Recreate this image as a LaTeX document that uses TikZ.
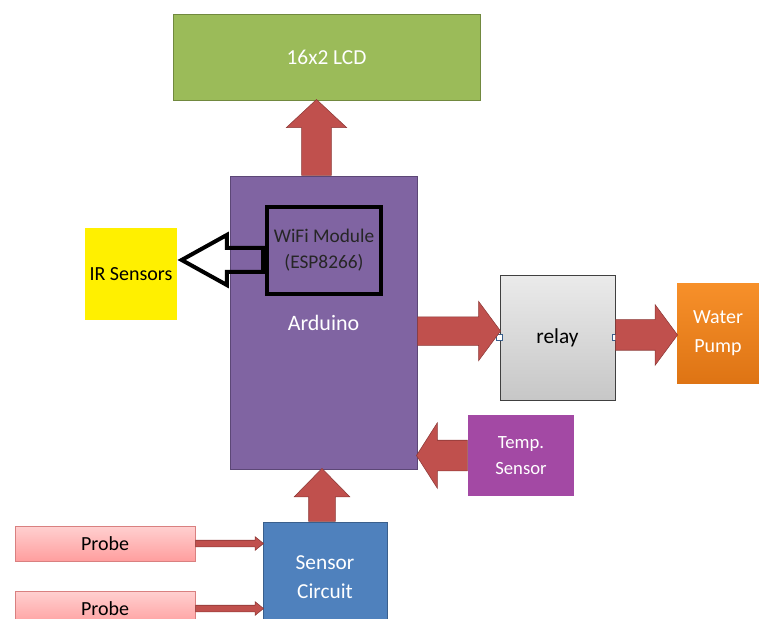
\documentclass[tikz,border=0pt]{standalone}
\usepackage{fontspec}
\setmainfont{Carlito}
\usetikzlibrary{shapes.arrows,positioning}
\definecolor{lcdgreen}{HTML}{9BBB59}
\definecolor{lcdline}{HTML}{71893F}
\definecolor{ardpurple}{HTML}{8064A2}
\definecolor{ardline}{HTML}{5C4776}
\definecolor{arrowred}{HTML}{C0504D}
\definecolor{arrowdark}{HTML}{8C3836}
\definecolor{iryellow}{HTML}{FFF000}
\definecolor{pumporange}{HTML}{F7902A}
\definecolor{pumpdark}{HTML}{DE7414}
\definecolor{tempviolet}{HTML}{A349A4}
\definecolor{sensblue}{HTML}{4F81BD}
\definecolor{sensline}{HTML}{3A5F8C}
\definecolor{probetop}{HTML}{FFD0D0}
\definecolor{probebot}{HTML}{FF9E9E}
\definecolor{probeline}{HTML}{D98080}
\tikzset{block/.style={rectangle,inner sep=0pt,align=center,font=\fontsize{15}{22}\selectfont},
	 bigarrow/.style={single arrow,draw=arrowdark,fill=arrowred,inner sep=0pt,
		single arrow head indent=0pt},
	 handle/.style={rectangle,draw=sensline,fill=white,inner sep=0pt,minimum size=4.5pt,line width=0.4pt}
	 }

\begin{document}
\begin{tikzpicture}[x=0.75pt,y=-0.75pt] % px grid, y down
	\useasboundingbox (0,0) rectangle (759,618);
	% boxes
	\node[block,fill=lcdgreen,draw=lcdline,text=white,minimum width=230.25pt,minimum height=64.5pt,
		font=\fontsize{16}{19}\selectfont] (lcd) at (326.5,57) {16x2 LCD};
	\node[block,fill=ardpurple,draw=ardline,text=white,minimum width=140.25pt,minimum height=219.75pt,
		font=\fontsize{16.5}{19}\selectfont] (ard) at (323.5,322.5) {Arduino};
	\node[block,draw=black,line width=3pt,text=black!85,minimum width=85.5pt,minimum height=65.25pt,
		font=\fontsize{14.5}{19.5}\selectfont] (wifi) at (324,250.5) {WiFi Module\\(ESP8266)};
	\node[block,fill=iryellow,text=black,minimum width=69pt,minimum height=69pt] (ir) at (131,274) {IR Sensors};
	\node[block,top color=black!8,bottom color=black!22,draw=black!75,minimum width=86.25pt,
		minimum height=93.75pt,font=\fontsize{16}{19}\selectfont] (relay) at (557.5,337.5) {relay};
	\node[block,top color=pumporange,bottom color=pumpdark,text=white,minimum width=61.5pt,
		minimum height=75pt] (pump) at (718,333) {Water\\Pump};
	\node[block,fill=tempviolet,text=white,minimum width=79.5pt,minimum height=60.75pt,
		font=\fontsize{14}{19.5}\selectfont] (temp) at (521,455.5) {Temp.\\Sensor};
	\node[block,fill=sensblue,draw=sensline,text=white,minimum width=93pt,minimum height=82.5pt,
		font=\fontsize{16}{22}\selectfont] (sens) at (325,577) {Sensor\\Circuit};
	\node[block,top color=probetop,bottom color=probebot,draw=probeline,minimum width=135pt,
		minimum height=26.25pt] (probe1) at (105,543.5) {Probe};
	\node[block,top color=probetop,bottom color=probebot,draw=probeline,minimum width=135pt,
		minimum height=26.25pt] (probe2) at (105,608.5) {Probe};
	\node[handle] (h1) at (relay.west) {};
	\node[handle] (h2) at (relay.east) {};
	% block arrows
	\node[bigarrow,rotate=90,anchor=tail,minimum height=57pt,inner ysep=10.9pt,minimum width=45pt,
		single arrow head extend=11.6pt,single arrow tip angle=94] (a1) at ([xshift=-5.25pt]ard.north) {};
	\node[bigarrow,anchor=tail,minimum height=62.25pt,inner ysep=10.5pt,minimum width=44.25pt,
		single arrow head extend=11.6pt,single arrow tip angle=107] (a2) at ([yshift=-6.4pt]ard.east) {};
	\node[bigarrow,anchor=tail,minimum height=46.5pt,inner ysep=11.25pt,minimum width=45pt,
		single arrow head extend=11.25pt,single arrow tip angle=107] (a3) at ([yshift=1.9pt]relay.east) {};
	\node[bigarrow,rotate=180,anchor=tail,minimum height=38.25pt,inner ysep=11.25pt,minimum width=48.75pt,
		single arrow head extend=13.1pt,single arrow tip angle=115] (a4) at (temp.west) {};
	\node[bigarrow,rotate=90,anchor=tail,minimum height=39.75pt,inner ysep=9.75pt,minimum width=41.25pt,
		single arrow head extend=10.9pt,single arrow tip angle=89] (a5) at ([xshift=-2.25pt]sens.north) {};
	\node[bigarrow,anchor=tail,minimum height=51pt,inner ysep=2.25pt,minimum width=9.75pt,
		single arrow head extend=2.6pt,single arrow tip angle=78] (a6) at (probe1.east) {};
	\node[bigarrow,anchor=tail,minimum height=51pt,inner ysep=2.25pt,minimum width=9.75pt,
		single arrow head extend=2.6pt,single arrow tip angle=78] (a7) at (probe2.east) {};
	% hollow arrow to the IR sensors
	\node[single arrow,draw=black,line width=3pt,rotate=180,anchor=tail,inner sep=0pt,
		minimum height=61pt,inner ysep=7.5pt,minimum width=34.5pt,single arrow head extend=9.75pt,
		single arrow tip angle=58,single arrow head indent=0pt] (a8) at ([yshift=-7.1pt]wifi.west) {};
\end{tikzpicture}
\end{document}
